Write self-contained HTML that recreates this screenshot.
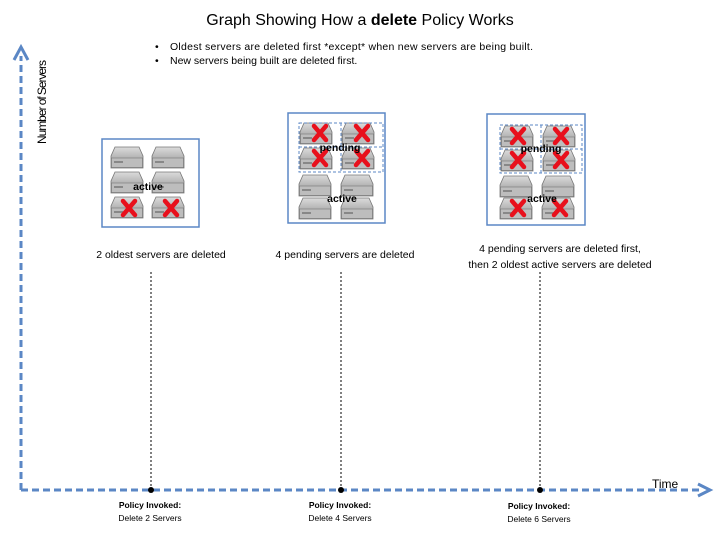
<!DOCTYPE html>
<html><head><style>body{margin:0;background:#fff}svg{display:block}text{font-family:"Liberation Sans",sans-serif}</style></head><body>
<svg width="720" height="540" viewBox="0 0 720 540" xmlns="http://www.w3.org/2000/svg">
<defs>
<linearGradient id="g1" x1="0" y1="0" x2="0" y2="1"><stop offset="0" stop-color="#dcdcdc"/><stop offset="1" stop-color="#8c8c8c"/></linearGradient>
<g id="srv">
<path d="M4 0 H28 L32 9 V21 H0 V9 Z" fill="url(#g1)" stroke="#777" stroke-width="0.8"/>
<rect x="0.5" y="11" width="31" height="9.5" fill="#bdbdbd" stroke="#777" stroke-width="0.6"/>
<rect x="3" y="14" width="9" height="2" fill="#888"/>
</g>
<g id="x"><path d="M-6 -7 L6 7 M6 -7 L-6 7" stroke="#e8101c" stroke-width="4.5" stroke-linecap="round"/></g>
</defs>
<text x="360" y="25" font-size="16" text-anchor="middle">Graph Showing How a <tspan font-weight="bold">delete</tspan> Policy Works</text>
<text x="155" y="50" font-size="10.5">•</text><text x="170" y="50" font-size="10.5" textLength="363">Oldest servers are deleted first *except* when new servers are being built.</text>
<text x="155" y="64" font-size="10.5">•</text><text x="170" y="64" font-size="10.5">New servers being built are deleted first.</text>
<text transform="translate(46,144) rotate(-90)" font-size="12" textLength="84">Number of Servers</text>
<text x="652" y="488" font-size="12">Time</text>
<path d="M21 490 V56" stroke="#5b87c5" stroke-width="3" stroke-dasharray="7,4" fill="none"/>
<path d="M14 60 L21 47 L28 60" fill="none" stroke="#5b87c5" stroke-width="3"/>
<path d="M21 490 H700" stroke="#5b87c5" stroke-width="3" stroke-dasharray="7,4" fill="none"/>
<path d="M698 484 L710 490 L698 496" fill="none" stroke="#5b87c5" stroke-width="3"/>
<g stroke="#000" stroke-width="1" stroke-dasharray="2,2">
<path d="M151 272 V490"/><path d="M341 272 V490"/><path d="M540 272 V490"/></g>
<circle cx="151" cy="490" r="3"/><circle cx="341" cy="490" r="3"/><circle cx="540" cy="490" r="3"/>
<g font-size="8.5" text-anchor="middle">
<text x="150" y="508" font-weight="bold">Policy Invoked:</text><text x="150" y="521">Delete 2 Servers</text>
<text x="340" y="508" font-weight="bold">Policy Invoked:</text><text x="340" y="521">Delete 4 Servers</text>
<text x="539" y="509" font-weight="bold">Policy Invoked:</text><text x="539" y="522">Delete 6 Servers</text>
</g>
<g font-size="10.5" text-anchor="middle">
<text x="161" y="258">2 oldest servers are deleted</text>
<text x="345" y="258">4 pending servers are deleted</text>
<text x="560" y="252">4 pending servers are deleted first,</text>
<text x="560" y="268">then 2 oldest active servers are deleted</text>
</g>
<!-- box1 -->
<rect x="102" y="139" width="97" height="88" fill="#fff" stroke="#5b87c5" stroke-width="1.5"/>
<use href="#srv" x="111" y="147"/><use href="#srv" x="152" y="147"/>
<use href="#srv" x="111" y="172"/><use href="#srv" x="152" y="172"/>
<use href="#srv" x="111" y="197"/><use href="#srv" x="152" y="197"/>
<use href="#x" x="129" y="208"/><use href="#x" x="171" y="208"/>
<text x="148" y="190" font-size="10.5" font-weight="bold" text-anchor="middle">active</text>
<!-- box2 -->
<rect x="288" y="113" width="97" height="110" fill="#fff" stroke="#5b87c5" stroke-width="1.5"/>
<use href="#srv" x="300" y="123"/><use href="#srv" x="342" y="123"/>
<use href="#srv" x="300" y="148"/><use href="#srv" x="342" y="148"/>
<rect x="299" y="123" width="84" height="49" fill="none" stroke="#5b87c5" stroke-dasharray="3,2"/>
<path d="M341 123 V172 M299 147 H383" stroke="#5b87c5" stroke-dasharray="3,2"/>
<use href="#x" x="320" y="133"/><use href="#x" x="362" y="133"/>
<use href="#x" x="320" y="158"/><use href="#x" x="362" y="158"/>
<text x="340" y="151" font-size="10.5" font-weight="bold" text-anchor="middle">pending</text>
<use href="#srv" x="299" y="175"/><use href="#srv" x="341" y="175"/>
<use href="#srv" x="299" y="198"/><use href="#srv" x="341" y="198"/>
<text x="342" y="202" font-size="10.5" font-weight="bold" text-anchor="middle">active</text>
<!-- box3 -->
<rect x="487" y="114" width="98" height="111" fill="#fff" stroke="#5b87c5" stroke-width="1.5"/>
<use href="#srv" x="501" y="126"/><use href="#srv" x="543" y="126"/>
<use href="#srv" x="501" y="150"/><use href="#srv" x="543" y="150"/>
<rect x="500" y="125" width="82" height="48" fill="none" stroke="#5b87c5" stroke-dasharray="3,2"/>
<path d="M541 125 V173 M500 149 H582" stroke="#5b87c5" stroke-dasharray="3,2"/>
<use href="#x" x="518" y="136"/><use href="#x" x="561" y="136"/>
<use href="#x" x="518" y="160"/><use href="#x" x="561" y="160"/>
<text x="541" y="152" font-size="10.5" font-weight="bold" text-anchor="middle">pending</text>
<use href="#srv" x="500" y="176"/><use href="#srv" x="542" y="176"/>
<use href="#srv" x="500" y="198"/><use href="#srv" x="542" y="198"/>
<use href="#x" x="518" y="208"/><use href="#x" x="560" y="208"/>
<text x="542" y="202" font-size="10.5" font-weight="bold" text-anchor="middle">active</text>
</svg>
</body></html>
